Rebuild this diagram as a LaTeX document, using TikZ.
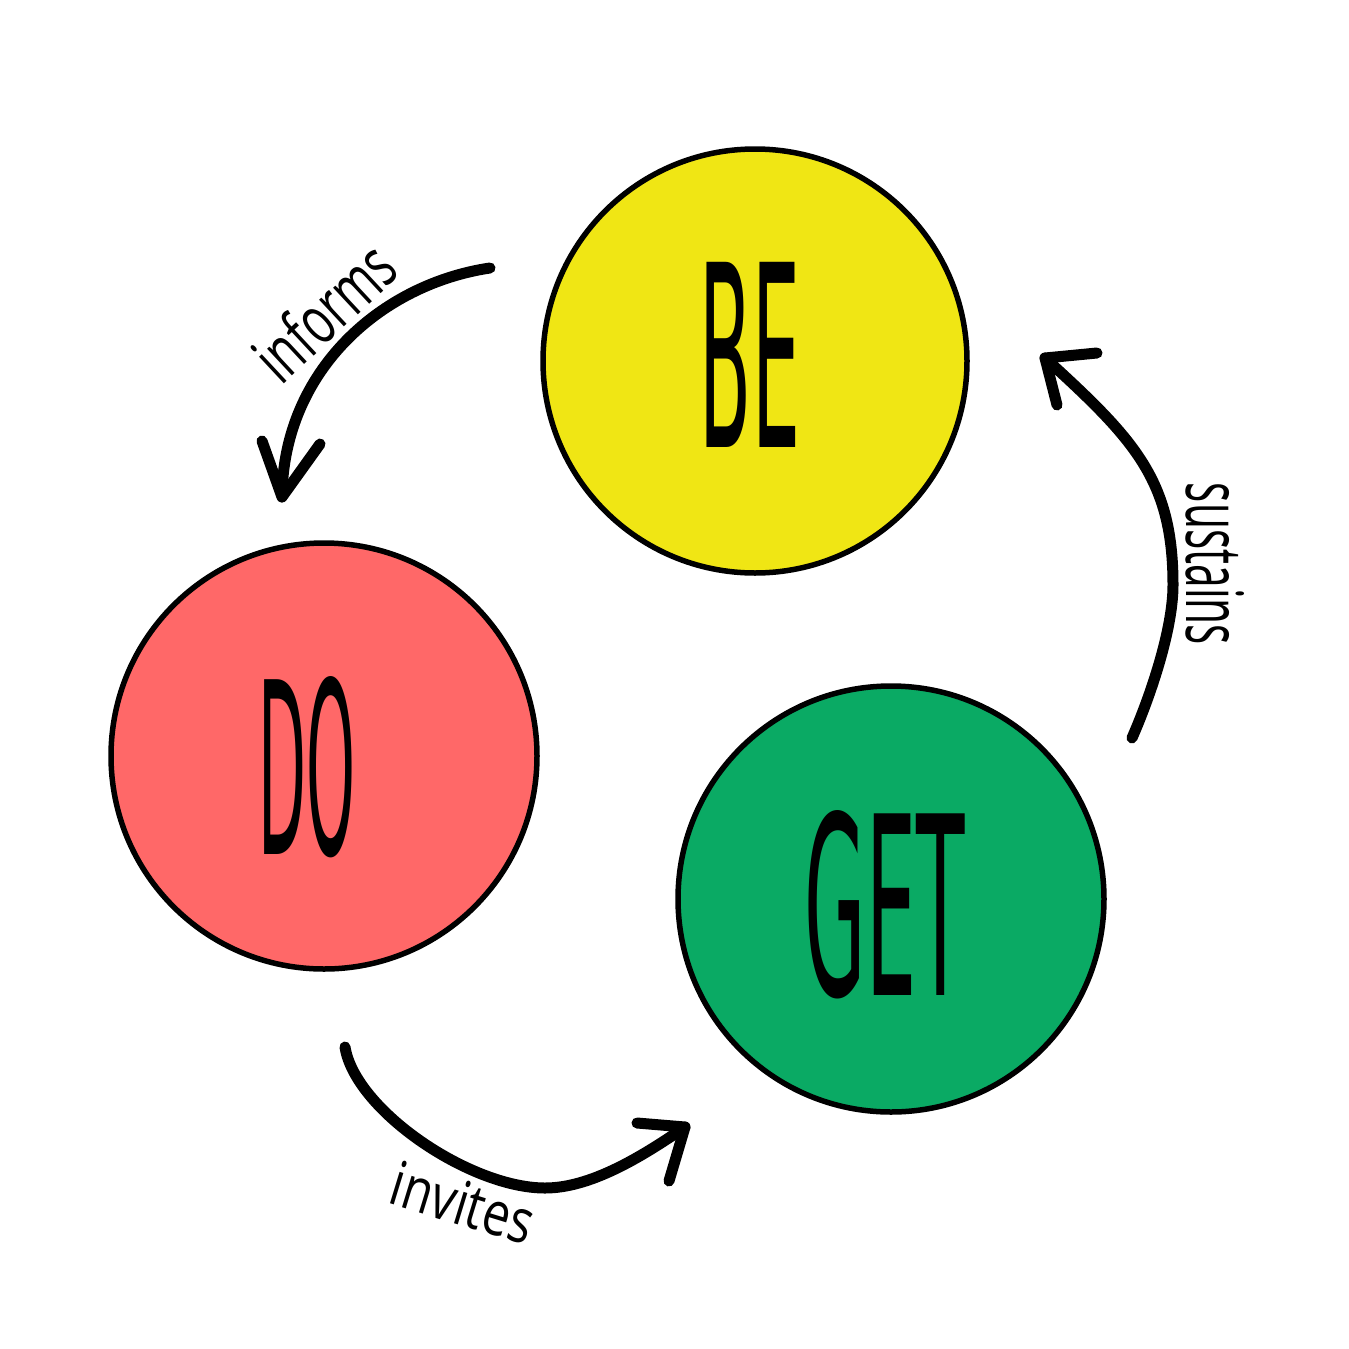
\documentclass[tikz,border=0pt]{standalone}
\usepackage{fontspec}
\usepackage{graphicx}
\setmainfont{Open Sans}
\newfontfamily\bigfont{DejaVu Sans}
\newcommand{\bigword}[3]{\resizebox{#1}{#2}{\bigfont #3}}
\newcommand{\labword}[3]{\resizebox{#1}{#2}{#3}}
\definecolor{beY}{HTML}{F0E614}
\definecolor{doR}{HTML}{FF6868}
\definecolor{getG}{HTML}{0AAA64}
\begin{document}
\begin{tikzpicture}[x=1pt,y=-1pt,
  bub/.style={circle, draw=black, line width=5.5pt, inner sep=0pt},
  word/.style={inner sep=0pt},
  arr/.style={line width=11pt, line cap=round, line join=round},
  lbl/.style={inner sep=0pt}]
\useasboundingbox (0,0) rectangle (1349,1349);
\fill[white] (0,0) rectangle (1349,1349);
% circles
\node[bub, fill=beY, minimum size=424pt] (be) at (755,361) {};
\node[bub, fill=doR, minimum size=426pt] (do) at (324,756) {};
\node[bub, fill=getG, minimum size=426pt] (get) at (891,899) {};
% big words
\node[word] (beT) at (750,355) {\bigword{100pt}{185pt}{BE}};
\node[word] (doT) at (307,767) {\bigword{97pt}{178pt}{DO}};
\node[word] (getT) at (885,905) {\bigword{160pt}{185pt}{GET}};
% arrow: informs
\coordinate (inS) at (490,268);
\coordinate (inE) at (282,497);
\coordinate (inL) at (262,441);
\coordinate (inR) at (320,444);
\draw[arr] (inS) .. controls (382,284) and (283,370) .. (inE);
\draw[arr] (inL) -- (inE) -- (inR);
\node[lbl, rotate=43] (informsL) at (324,311) {\labword{165pt}{52pt}{informs}};
% arrow: sustains
\coordinate (suS) at (1132,738);
\coordinate (suM) at (1173,585);
\coordinate (suE) at (1045,358);
\coordinate (suL) at (1097,353);
\coordinate (suR) at (1057,405);
\draw[arr] (suS) .. controls (1150,697) and (1173,630) .. (suM)
                 .. controls (1173,480) and (1135,440) .. (suE);
\draw[arr] (suL) -- (suE) -- (suR);
\node[lbl, rotate=-90] (sustainsL) at (1215,564) {\labword{162pt}{58pt}{sustains}};
% arrow: invites
\coordinate (ivS) at (345,1047);
\coordinate (ivM) at (545,1188);
\coordinate (ivE) at (685,1127);
\coordinate (ivL) at (637,1123);
\coordinate (ivR) at (669,1181);
\draw[arr] (ivS) .. controls (355,1110) and (470,1188) .. (ivM)
                 .. controls (590,1188) and (640,1158) .. (ivE);
\draw[arr] (ivL) -- (ivE) -- (ivR);
\node[lbl, rotate=-17] (invitesL) at (463,1203) {\labword{146pt}{45pt}{invites}};
\end{tikzpicture}
\end{document}
